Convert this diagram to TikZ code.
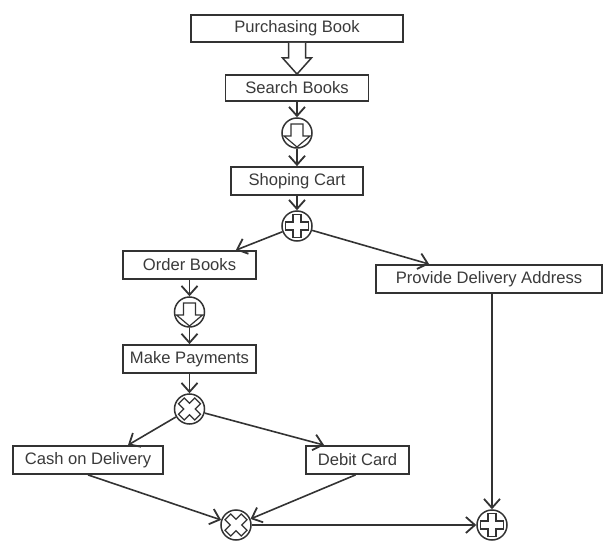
\documentclass[tikz,border=0pt]{standalone}
\usepackage{fontspec}
\setmainfont{Liberation Sans}
\usetikzlibrary{arrows.meta,calc}
\definecolor{ln}{HTML}{333333}
\definecolor{tx}{HTML}{3A3A3A}
\begin{document}
\begin{tikzpicture}[x=0.5pt,y=-0.5pt,
 box/.style={draw=ln,line width=0.9pt,fill=white,text=tx,font=\fontsize{8.3}{10}\selectfont,inner sep=0pt,minimum height=14pt},
 gate/.style={circle,draw=ln,line width=0.75pt,fill=white,minimum size=15pt,inner sep=0pt},
 flow/.style={draw=ln,line width=0.8pt,-{Straight Barb[length=4.5pt,width=8pt,line width=0.9pt]}},
 sym/.style={draw=ln,line width=0.6pt,fill=white},
 downarrow/.pic={\draw[sym] (-6,-9) -- (6,-9) -- (6,3) -- (13,3) -- (0,14) -- (-13,3) -- (-6,3) -- cycle;},
 plussign/.pic={\draw[sym] (-4,-11.5) -- (4,-11.5) -- (4,-4) -- (11.5,-4) -- (11.5,4) -- (4,4) -- (4,11.5) -- (-4,11.5) -- (-4,4) -- (-11.5,4) -- (-11.5,-4) -- (-4,-4) -- cycle;}]
\useasboundingbox (0,0) rectangle (607,552);

\node[box,minimum width=106pt,minimum height=13.5pt] (PB) at (297,28.5) {Purchasing Book};
\node[box,minimum width=71.5pt,minimum height=13pt] (SB) at (297,88) {Search Books};
\node[gate] (C1) at (297,133) {};
\node[box,minimum width=66pt] (SC) at (297,181) {Shoping Cart};
\node[gate] (P1) at (297,226) {};
\node[box,minimum width=66.5pt] (OB) at (189.5,265) {Order Books};
\node[box,minimum width=113pt] (PDA) at (489,279) {Provide Delivery Address};
\node[gate] (C2) at (189.5,312) {};
\node[box,minimum width=66.5pt] (MP) at (189.5,359) {Make Payments};
\node[gate] (X1) at (189.5,409) {};
\node[box,minimum width=75pt] (COD) at (88,460) {Cash on Delivery};
\node[box,minimum width=51.5pt] (DC) at (357.5,460) {Debit Card};
\node[gate] (X2) at (236,525) {};
\node[gate] (P2) at (492,525) {};

% big hollow arrow
\draw[sym,line width=0.75pt] ($(PB.south)+(-8.5,0)$) -- ($(PB.south)+(-8.5,15)$) -- ($(PB.south)+(-14.5,15)$) -- (SB.north) -- ($(PB.south)+(14.5,15)$) -- ($(PB.south)+(8.5,15)$) -- ($(PB.south)+(8.5,0)$);

\draw[flow] (SB.south) -- (C1.north);
\draw[flow] (C1.south) -- (SC.north);
\draw[flow] (SC.south) -- (P1.north);
\draw[flow] (P1) -- ($(OB.north east)+(-21,0)$);
\draw[flow] (P1) -- ($(PDA.north west)+(54,0)$);
\draw[flow] (OB.south) -- (C2.north);
\draw[flow] (C2.south) -- (MP.north);
\draw[flow] (MP.south) -- (X1.north);
\draw[flow] (X1) -- ($(COD.north)+(40,0)$);
\draw[flow] (X1) -- ($(DC.north west)+(19,0)$);
\draw[flow] (COD.south) -- (X2);
\draw[flow] ($(DC.south)+(-2,0)$) -- (X2);
\draw[flow] (X2) -- (P2);
\draw[flow] (PDA.south -| P2) -- (P2.north);

\pic[shift={(C1)}] {downarrow};
\pic[shift={(C2)}] {downarrow};
\pic[shift={(P1)}] {plussign};
\pic[shift={(P2)}] {plussign};
\pic[shift={(X1)},rotate=45] {plussign};
\pic[shift={(X2)},rotate=45] {plussign};
\end{tikzpicture}
\end{document}
